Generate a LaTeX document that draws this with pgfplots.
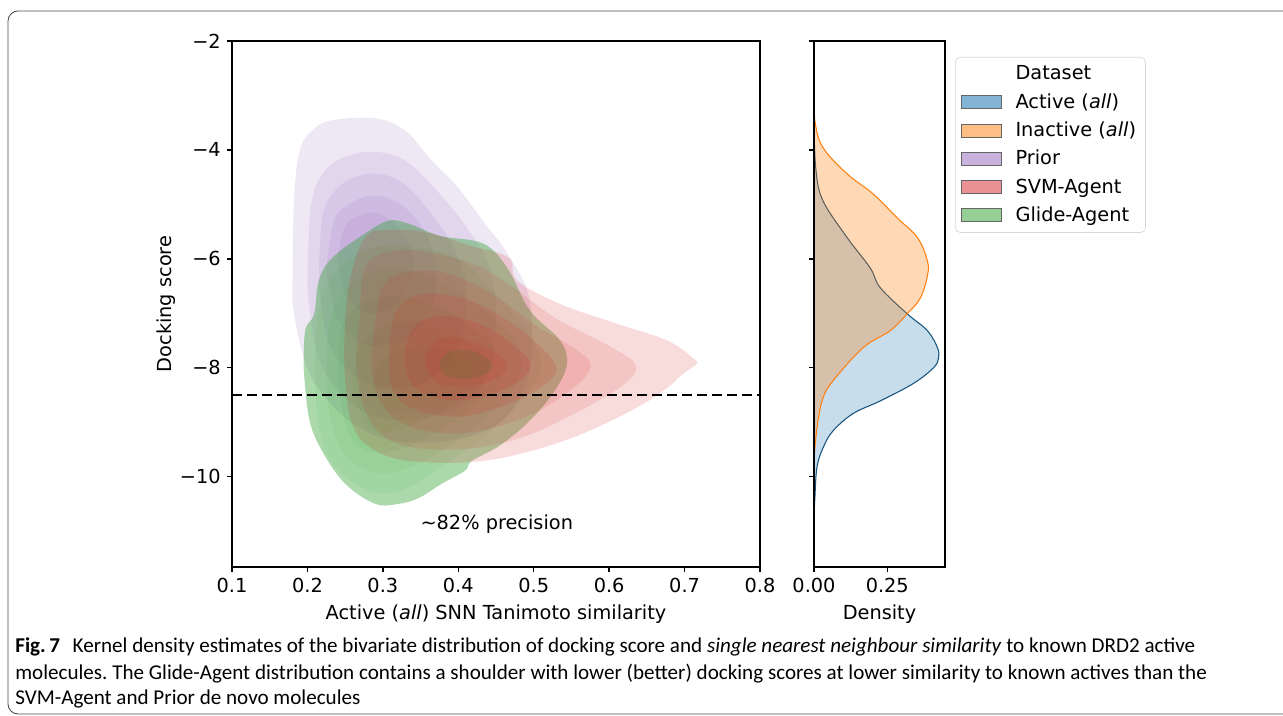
\documentclass[border=0pt]{standalone}
\usepackage{pgfplots}
\pgfplotsset{compat=1.18}
\usepackage{fontspec}
\setmainfont{DejaVu Sans}
\newfontfamily\capfont{Carlito}
\newcommand\mplfont{\fontsize{11}{13.2}\selectfont}

\definecolor{tabblue}{HTML}{1F77B4}
\definecolor{taborange}{HTML}{FF7F0E}
\definecolor{tabpurple}{HTML}{9467BD}
\definecolor{tabred}{HTML}{D62728}
\definecolor{tabgreen}{HTML}{2CA02C}
\definecolor{olivecore}{HTML}{6B6A34}

\pgfplotsset{
  kde/.style={draw=none, smooth, tension=0.6},
  mplaxis/.style={
    scale only axis,
    tick align=outside, tick pos=left,
    major tick length=1mm,
    axis line style={line width=0.8pt},
    every tick/.style={black, line width=0.8pt},
    tick label style={font=\mplfont},
    label style={font=\mplfont},
    axis on top,
  },
}

\begin{document}
\frenchspacing
\begin{tikzpicture}
\useasboundingbox (0,0) rectangle (256.6mm,143.2mm);
\draw[black!70, line width=0.5pt, rounded corners=2mm]
  (260mm,0.4mm) -- (1.6mm,0.4mm) -- (1.6mm,141mm) -- (260mm,141mm);

% ---- joint KDE ----
\begin{axis}[mplaxis,
  name=main, at={(46.4mm,29.8mm)}, anchor=south west,
  width=105.6mm, height=105.2mm,
  xmin=0.1, xmax=0.8, ymin=-11.66, ymax=-2,
  xtick={0.1,0.2,0.3,0.4,0.5,0.6,0.7,0.8},
  xticklabels={0.1,0.2,0.3,0.4,0.5,0.6,0.7,0.8},
  ytick={-10,-8,-6,-4,-2},
  yticklabels={−10,−8,−6,−4,−2},
  xlabel={Active (\textit{all}) SNN Tanimoto similarity},
  ylabel={Docking score}, ylabel shift=-1.6mm,
]
% Prior
\addplot[kde, fill=tabpurple, fill opacity=0.16] coordinates {
 (0.180,-6.8) (0.182,-5.0) (0.190,-4.0) (0.210,-3.6) (0.235,-3.45) (0.290,-3.42)
 (0.330,-3.65) (0.365,-4.2) (0.400,-4.7) (0.435,-5.35) (0.465,-5.9) (0.495,-6.8)
 (0.490,-8.3) (0.430,-9.2) (0.300,-9.3) (0.210,-8.3) (0.180,-6.8)};
\addplot[kde, fill=tabpurple, fill opacity=0.13] coordinates {
 (0.200,-6.5) (0.205,-5.0) (0.225,-4.35) (0.260,-4.08) (0.300,-4.05) (0.335,-4.25)
 (0.375,-4.8) (0.410,-5.4) (0.440,-6.1) (0.450,-7.0) (0.440,-8.1) (0.390,-8.8)
 (0.290,-8.9) (0.220,-8.0) (0.200,-6.5)};
\addplot[kde, fill=tabpurple, fill opacity=0.13] coordinates {
 (0.215,-6.4) (0.220,-5.2) (0.240,-4.7) (0.270,-4.47) (0.300,-4.45) (0.330,-4.65)
 (0.360,-5.1) (0.390,-5.7) (0.410,-6.5) (0.400,-7.6) (0.350,-8.3) (0.280,-8.3)
 (0.230,-7.6) (0.215,-6.4)};
\addplot[kde, fill=tabpurple, fill opacity=0.13] coordinates {
 (0.225,-6.2) (0.235,-5.3) (0.255,-5.0) (0.280,-4.85) (0.310,-4.9) (0.340,-5.2)
 (0.365,-5.8) (0.370,-6.6) (0.340,-7.4) (0.280,-7.6) (0.240,-7.1) (0.225,-6.2)};
\addplot[kde, fill=tabpurple, fill opacity=0.13] coordinates {
 (0.240,-6.0) (0.250,-5.4) (0.275,-5.17) (0.300,-5.2) (0.325,-5.5) (0.340,-6.1)
 (0.320,-6.8) (0.280,-7.0) (0.250,-6.6) (0.240,-6.0)};
% Glide-Agent
\addplot[kde, fill=tabgreen, fill opacity=0.4] coordinates {
 (0.195,-8.00) (0.197,-7.32) (0.209,-7.01) (0.215,-6.40) (0.233,-5.98) (0.276,-5.54)
 (0.308,-5.30) (0.335,-5.36) (0.376,-5.58) (0.433,-5.72) (0.465,-6.17) (0.495,-6.95)
 (0.535,-7.50) (0.544,-7.93) (0.528,-8.42) (0.495,-8.97) (0.455,-9.43) (0.418,-9.71)
 (0.409,-9.89) (0.378,-10.13) (0.348,-10.39) (0.321,-10.50) (0.290,-10.50) (0.250,-10.13)
 (0.219,-9.52) (0.202,-8.92) (0.195,-8.00)};
\addplot[kde, fill=tabgreen, fill opacity=0.07] coordinates {
 (0.210,-8.1) (0.215,-6.9) (0.240,-6.2) (0.285,-5.8) (0.335,-5.75) (0.400,-6.0)
 (0.440,-6.5) (0.490,-7.3) (0.510,-7.95) (0.490,-8.5) (0.440,-9.2) (0.380,-9.8)
 (0.325,-10.25) (0.280,-10.25) (0.235,-9.8) (0.215,-9.1) (0.210,-8.1)};
\addplot[kde, fill=tabgreen, fill opacity=0.07] coordinates {
 (0.225,-8.1) (0.230,-7.1) (0.255,-6.5) (0.300,-6.2) (0.360,-6.3) (0.420,-6.8)
 (0.470,-7.4) (0.485,-8.0) (0.460,-8.6) (0.410,-9.2) (0.350,-9.75) (0.295,-9.95)
 (0.250,-9.6) (0.230,-8.9) (0.225,-8.1)};
\addplot[kde, fill=tabgreen, fill opacity=0.07] coordinates {
 (0.240,-8.2) (0.245,-7.3) (0.275,-6.8) (0.330,-6.7) (0.390,-7.0) (0.440,-7.5)
 (0.460,-8.0) (0.440,-8.5) (0.390,-9.0) (0.335,-9.45) (0.285,-9.55) (0.255,-9.2)
 (0.240,-8.2)};
\addplot[kde, fill=tabgreen, fill opacity=0.07] coordinates {
 (0.260,-8.3) (0.270,-7.6) (0.310,-7.2) (0.360,-7.2) (0.410,-7.5) (0.440,-8.0)
 (0.420,-8.45) (0.370,-8.85) (0.320,-9.15) (0.280,-9.1) (0.260,-8.3)};
\addplot[kde, fill=tabgreen, fill opacity=0.07] coordinates {
 (0.285,-8.4) (0.300,-7.85) (0.345,-7.6) (0.395,-7.75) (0.420,-8.1) (0.400,-8.45)
 (0.350,-8.7) (0.305,-8.8) (0.285,-8.4)};
% SVM-Agent
\addplot[kde, fill=tabred, fill opacity=0.17] coordinates {
 (0.286,-5.49) (0.348,-5.49) (0.416,-5.76) (0.467,-5.98) (0.478,-6.40) (0.535,-6.83)
 (0.610,-7.19) (0.677,-7.50) (0.711,-7.82) (0.716,-7.93) (0.698,-8.11) (0.677,-8.37)
 (0.637,-8.73) (0.565,-9.21) (0.499,-9.52) (0.433,-9.71) (0.362,-9.74) (0.303,-9.61)
 (0.263,-9.16) (0.250,-8.24) (0.250,-7.14) (0.256,-6.40) (0.270,-5.76) (0.286,-5.49)};
\addplot[kde, fill=tabred, fill opacity=0.12] coordinates {
 (0.270,-7.0) (0.275,-6.2) (0.300,-5.9) (0.350,-5.85) (0.420,-6.1) (0.470,-6.5)
 (0.530,-7.1) (0.600,-7.6) (0.635,-7.95) (0.620,-8.3) (0.560,-8.8) (0.480,-9.3)
 (0.400,-9.5) (0.320,-9.4) (0.280,-8.9) (0.265,-8.0) (0.270,-7.0)};
\addplot[kde, fill=tabred, fill opacity=0.12] coordinates {
 (0.290,-7.2) (0.300,-6.5) (0.330,-6.25) (0.380,-6.25) (0.440,-6.6) (0.500,-7.2)
 (0.560,-7.7) (0.575,-8.0) (0.550,-8.4) (0.490,-8.9) (0.410,-9.2) (0.340,-9.1)
 (0.300,-8.7) (0.285,-8.0) (0.290,-7.2)};
\addplot[kde, fill=tabred, fill opacity=0.15] coordinates {
 (0.310,-7.4) (0.320,-6.9) (0.350,-6.65) (0.400,-6.7) (0.450,-7.0) (0.500,-7.5)
 (0.530,-8.0) (0.510,-8.35) (0.460,-8.7) (0.400,-8.9) (0.340,-8.75) (0.310,-8.3)
 (0.310,-7.4)};
\addplot[kde, fill=tabred, fill opacity=0.15] coordinates {
 (0.330,-7.6) (0.345,-7.2) (0.380,-7.05) (0.420,-7.15) (0.460,-7.45) (0.495,-7.9)
 (0.480,-8.25) (0.440,-8.5) (0.390,-8.6) (0.345,-8.4) (0.330,-8.0) (0.330,-7.6)};
\addplot[kde, fill=tabred, fill opacity=0.12] coordinates {
 (0.355,-7.8) (0.370,-7.5) (0.400,-7.45) (0.440,-7.65) (0.465,-7.95) (0.450,-8.2)
 (0.410,-8.35) (0.370,-8.25) (0.355,-7.8)};
\addplot[kde, fill=olivecore, fill opacity=0.3] coordinates {
 (0.375,-7.9) (0.390,-7.7) (0.420,-7.7) (0.445,-7.95) (0.430,-8.15) (0.400,-8.2)
 (0.380,-8.1) (0.375,-7.9)};
% threshold
\addplot[black, line width=1pt, dash pattern=on 2mm off 1mm] coordinates {(0.1,-8.5) (0.8,-8.5)};
\node[font=\mplfont] at (axis cs:0.451,-10.88) {\textasciitilde82\% precision};
\end{axis}

% ---- marginal density ----
\begin{axis}[mplaxis,
  name=marg, at={(162.8mm,29.8mm)}, anchor=south west,
  width=26.2mm, height=105.2mm,
  xmin=0, xmax=0.447, ymin=-11.66, ymax=-2,
  xtick={0,0.25}, xticklabels={0.00,0.25},
  ytick={-10,-8,-6,-4,-2}, yticklabels={},
  xlabel={Density},
  legend image code/.code={\draw[#1, sharp corners] (0mm,-1.3mm) rectangle (8mm,1.3mm);},
  legend style={at={(1.076,0.9696)}, anchor=north west,
    draw=black!15, rounded corners=1mm, fill=white,
    font=\mplfont, row sep=0.8mm, column sep=2mm,
    inner xsep=1.2mm, inner ysep=1mm, cells={anchor=west}},
]
\addplot[smooth, tension=0.6, fill=tabblue, fill opacity=0.25,
  draw=tabblue!70!black, line width=0.6pt, forget plot] coordinates {
 (0,-3.6) (0.007,-4.39) (0.031,-4.94) (0.113,-5.61) (0.192,-6.17) (0.226,-6.53)
 (0.318,-7.01) (0.387,-7.32) (0.421,-7.63) (0.425,-7.82) (0.408,-8.00) (0.339,-8.29)
 (0.226,-8.61) (0.134,-8.84) (0.065,-9.16) (0.031,-9.47) (0.010,-9.83) (0.003,-10.39)
 (0,-10.7)};
\addplot[smooth, tension=0.6, fill=taborange, fill opacity=0.3,
  draw=taborange, line width=0.6pt, forget plot] coordinates {
 (0,-2.45) (0.001,-3.0) (0.004,-3.5) (0.031,-3.96) (0.113,-4.44) (0.202,-4.81) (0.284,-5.25)
 (0.353,-5.61) (0.387,-6.04) (0.387,-6.31) (0.363,-6.72) (0.318,-7.01) (0.260,-7.32)
 (0.168,-7.63) (0.065,-8.24) (0.031,-8.55) (0.014,-8.97) (0.003,-9.47) (0,-9.9)};
\addlegendimage{empty legend}
\addlegendentry{Dataset}
\addlegendimage{fill=tabblue, fill opacity=0.55, draw=black!60}
\addlegendentry{Active (\textit{all})}
\addlegendimage{fill=taborange, fill opacity=0.5, draw=black!60}
\addlegendentry{Inactive (\textit{all})}
\addlegendimage{fill=tabpurple, fill opacity=0.5, draw=black!60}
\addlegendentry{Prior}
\addlegendimage{fill=tabred, fill opacity=0.5, draw=black!60}
\addlegendentry{SVM-Agent}
\addlegendimage{fill=tabgreen, fill opacity=0.5, draw=black!60}
\addlegendentry{Glide-Agent}
\end{axis}

% ---- caption ----
\begin{scope}[every node/.style={anchor=base west, inner sep=0pt, font=\capfont\fontsize{12}{14}\selectfont}]
\node at (3mm,12.6mm) {\textbf{Fig.\,7}\hspace{0.6em}Kernel density estimates of the bivariate distribution of docking score and \textit{single nearest neighbour similarity} to known DRD2 active};
\node at (3mm,7.2mm) {molecules. The Glide-Agent distribution contains a shoulder with lower (better) docking scores at lower similarity to known actives than the};
\node at (3mm,2.2mm) {SVM-Agent and Prior de novo molecules};
\end{scope}
\end{tikzpicture}
\end{document}
